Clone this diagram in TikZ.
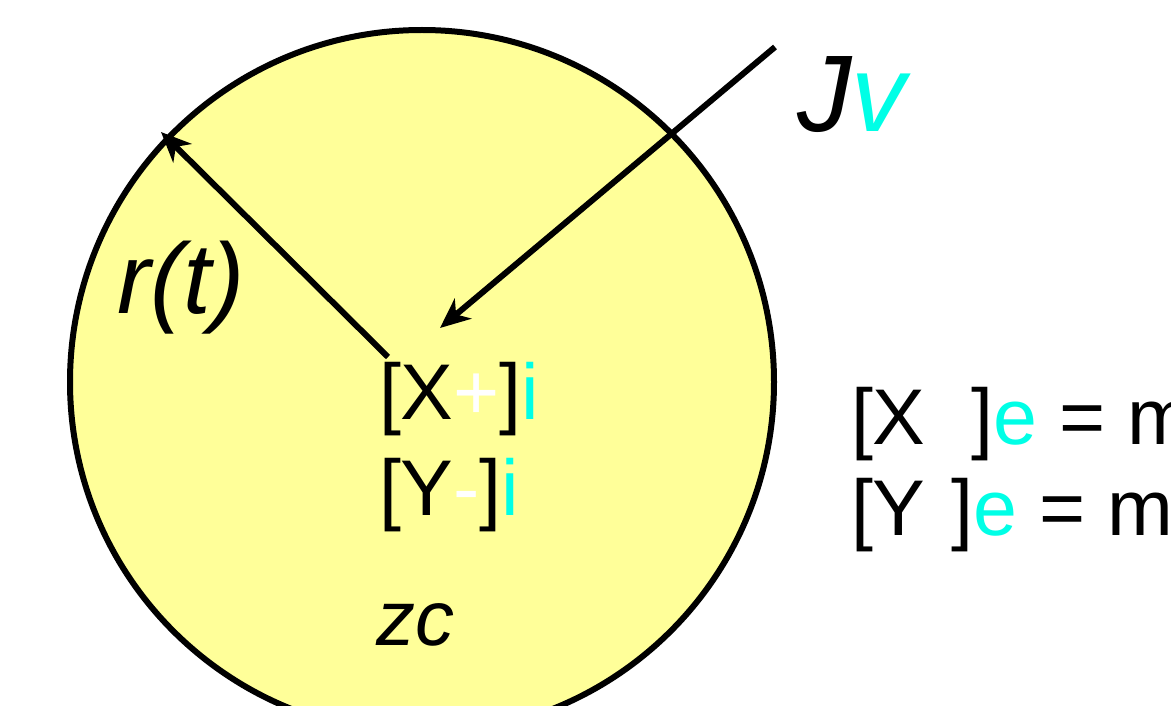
\documentclass[tikz,border=0pt]{standalone}
\usepackage{fontspec}
\setmainfont{Liberation Sans}
\usetikzlibrary{arrows.meta}
\definecolor{cellfill}{RGB}{255,255,153}
\definecolor{ioncol}{RGB}{0,255,230}
\begin{document}
\begin{tikzpicture}[x=1pt,y=-1pt,>={Stealth[length=30pt,width=26pt,inset=9pt]},line width=6pt,
  lbl/.style={inner sep=0pt,anchor=base west,font=\fontsize{79}{90}\selectfont}]
\useasboundingbox (0,0) rectangle (1171,706);
% cell
\draw[fill=cellfill] (422,382) circle (352);
\coordinate (ctr) at (388,357);
\coordinate (rim) at (161,132);
\coordinate (src) at (775,47);
\coordinate (sink) at (440,328);
\draw[->] (ctr) -- (rim);
\draw[->] (src) -- (sink);

\node[lbl,font=\fontsize{100}{110}\selectfont\itshape] (radius) at (114,313) {r(t)};
\node[lbl,font=\fontsize{109}{120}\selectfont\itshape] (flux) at (794,132) {J\textcolor{ioncol}{v}};

\node[lbl] (xin) at (376,419) {[X\textcolor{white}{+}]\textcolor{ioncol}{i}};
\node[lbl] (yin) at (376,515) {[Y\textcolor{white}{-}]\textcolor{ioncol}{i}};
\node[lbl,font=\fontsize{78}{90}\selectfont\itshape] (charge) at (373,645) {zc};

\node[lbl] (xout) at (848,444) {[X\textcolor{white}{+}]\textcolor{ioncol}{e} = m};
\node[lbl] (yout) at (848,535) {[Y\textcolor{white}{-}]\textcolor{ioncol}{e} = m};
\end{tikzpicture}
\end{document}
